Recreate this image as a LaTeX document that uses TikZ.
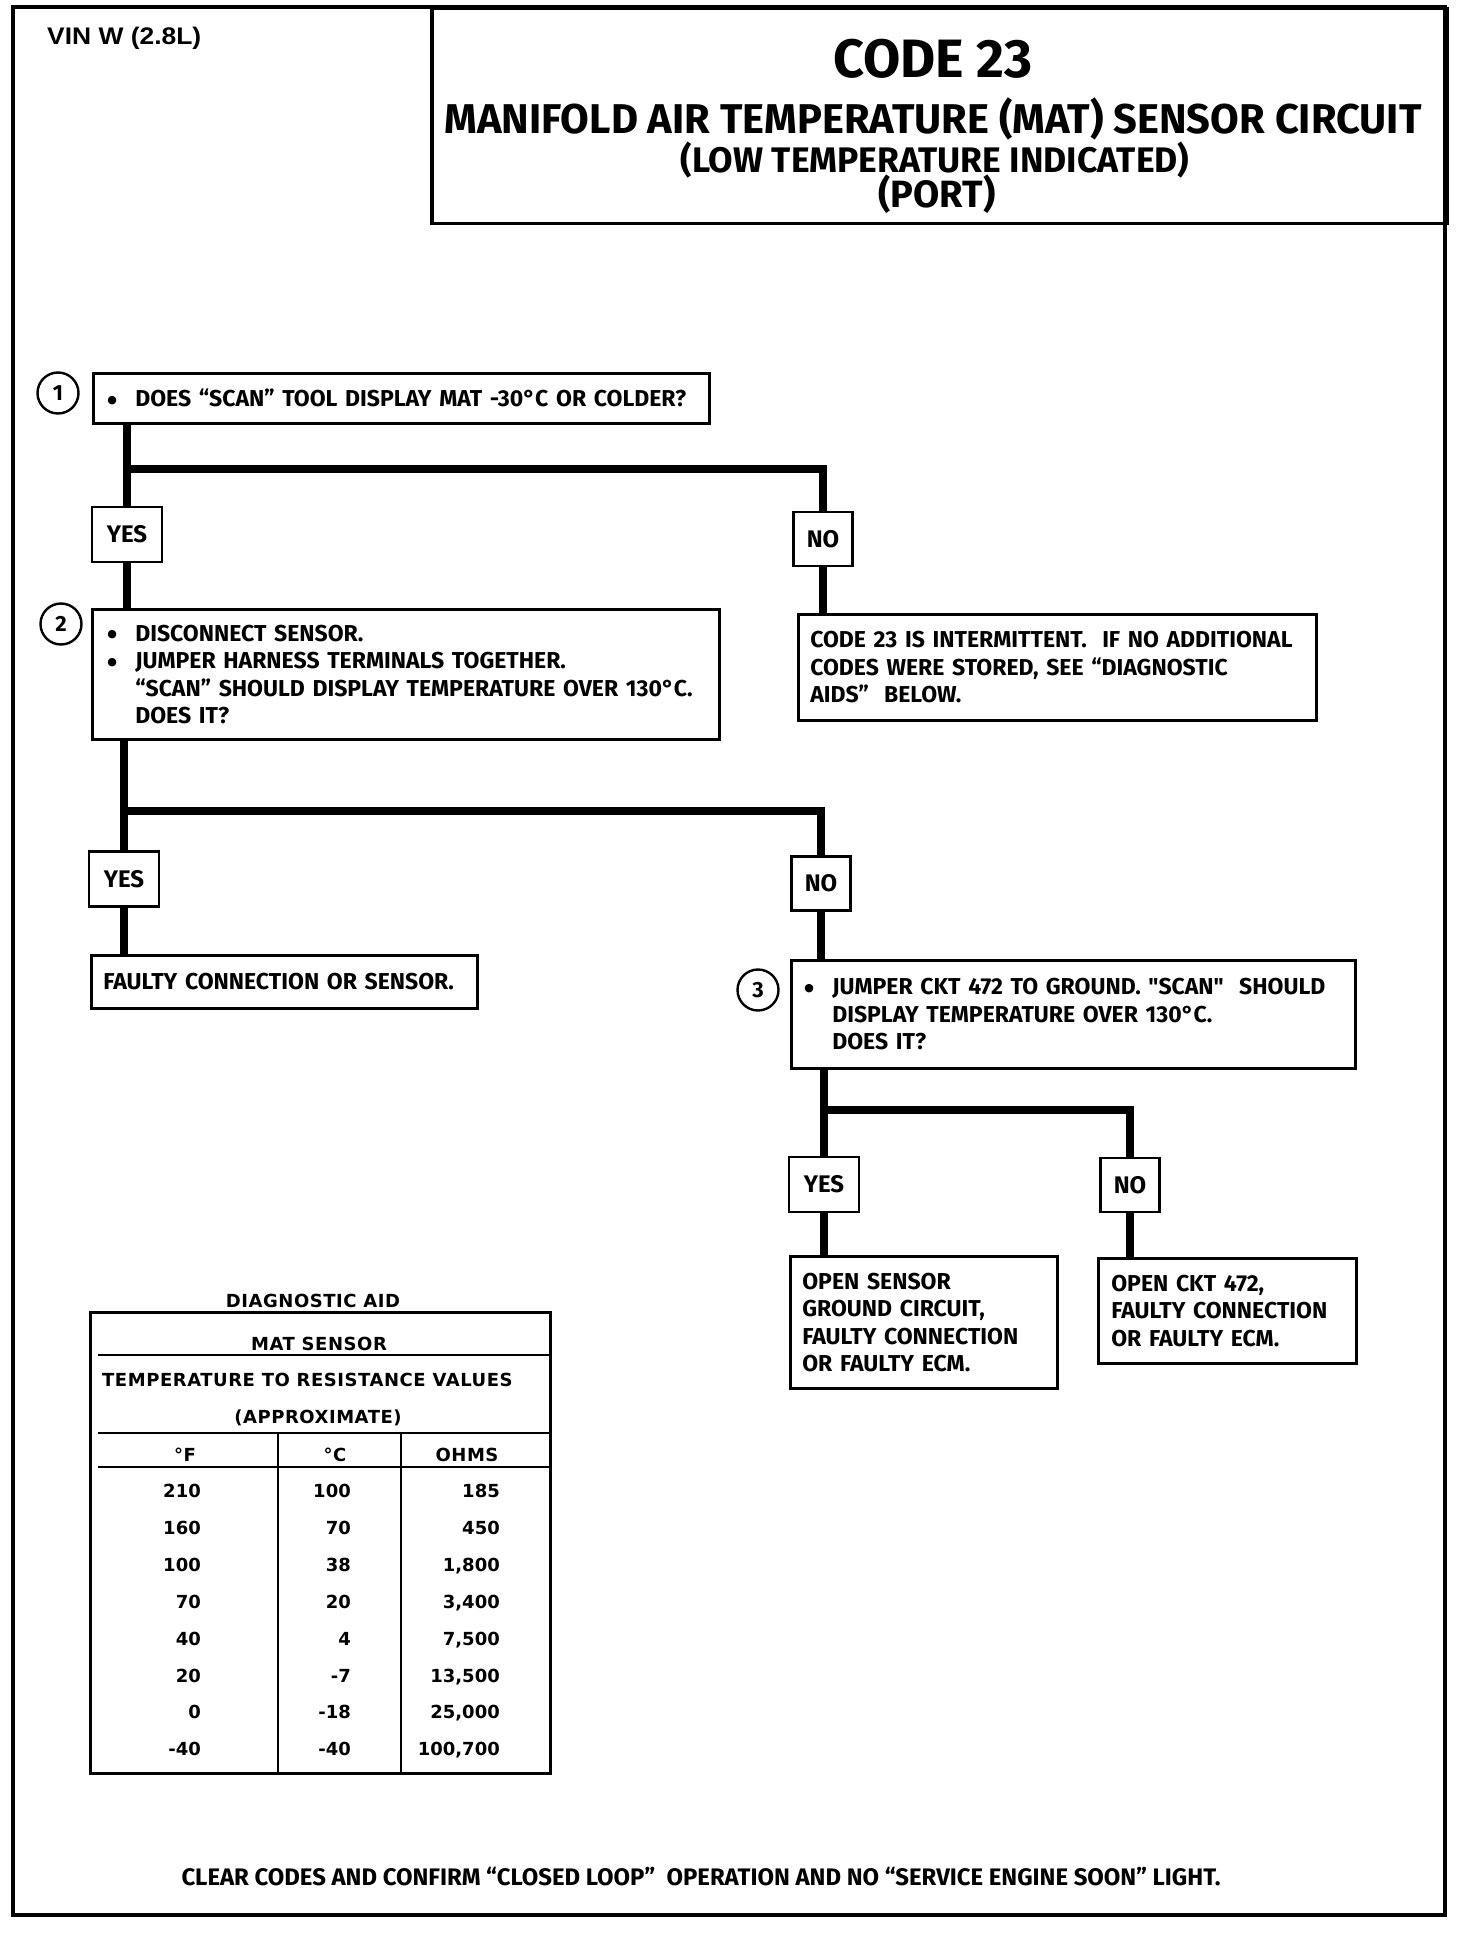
\documentclass[tikz,border=0pt]{standalone}
\usepackage{fontspec}
\setmainfont{Fira Sans}
\newfontfamily\bodyf{Fira Sans}[FakeStretch=1.0]
\newfontfamily\headf{Fira Sans}
\newfontfamily\tabf{DejaVu Sans}[LetterSpace=3]
\newfontfamily\tabd{DejaVu Sans}
\newfontfamily\dotf{DejaVu Sans}
\newfontfamily\vinf{Liberation Sans}[FakeStretch=1.1]
\newcommand{\bul}{\makebox[28pt][l]{\raisebox{3.5pt}{\dotf\fontsize{11}{11}\selectfont ●}}}
\newcommand{\ind}{\hspace*{28pt}}
\begin{document}
\begin{tikzpicture}[x=1pt,y=-1pt,
  every node/.style={inner sep=0pt},
  box/.style={draw, line width=2.6pt, anchor=north west, align=left, inner ysep=0pt,
    font=\bodyf\bfseries\fontsize{23}{27.5}\selectfont},
  lbl/.style={draw, line width=2.6pt, font=\bodyf\bfseries\fontsize{24}{26}\selectfont},
  yesbox/.style={lbl, minimum width=70pt, minimum height=55pt},
  nobox/.style={lbl, minimum width=59pt, minimum height=54pt},
  num/.style={draw, circle, line width=2.4pt, minimum size=41pt,
    font=\bodyf\bfseries\fontsize{22}{24}\selectfont},
  conn/.style={line width=7.5pt, line join=miter},
  tabtxt/.style={font=\tabf\bfseries\fontsize{18}{22}\selectfont},
  tabnum/.style={font=\tabd\bfseries\fontsize{18}{22}\selectfont},
  tline/.style={line width=2.6pt}]
\useasboundingbox (0,0) rectangle (1472,1934);
% outer frame and header
\draw[line width=4pt] (13,7) rectangle (1445,1915);
\node[draw, line width=3.5pt, anchor=north west, minimum width=1015pt, minimum height=215pt] (hdr) at (430,7) {};
\node[anchor=base west, font=\vinf\bfseries\fontsize{24}{26}\selectfont] (vin) at (47,45) {VIN W (2.8L)};
\node[anchor=base, font=\headf\bfseries\fontsize{54}{58}\selectfont] (code) at (933,78) {CODE 23};
\node[anchor=base, font=\headf\bfseries\fontsize{41.6}{46}\selectfont] (title) at (933,134) {MANIFOLD AIR TEMPERATURE (MAT) SENSOR CIRCUIT};
\node[anchor=base, font=\headf\bfseries\fontsize{35.5}{40}\selectfont] (sub1) at (935,173) {(LOW TEMPERATURE INDICATED)};
\node[anchor=base, font=\headf\bfseries\fontsize{38}{40}\selectfont] (sub2) at (937,208) {(PORT)};

% step boxes
\node[num] (c1) at (58,393) {1};
\node[box, inner xsep=14pt, text width=588pt, minimum height=50pt] (b1) at (92,372)
  {\mbox{\bul DOES “SCAN” TOOL DISPLAY MAT -30°C OR COLDER?}};
\node[yesbox] (yes1) at (127,534.5) {YES};
\node[nobox] (no1) at (823,539) {NO};
\node[box, inner xsep=12pt, text width=494pt, minimum height=106pt] (r1) at (797,613)
  {CODE 23 IS INTERMITTENT.\ \ IF NO ADDITIONAL\\CODES WERE STORED, SEE “DIAGNOSTIC\\AIDS”\ \ BELOW.};
\node[num] (c2) at (61,624) {2};
\node[box, inner xsep=15pt, text width=597pt, minimum height=130pt] (b2) at (91,608)
  {\bul DISCONNECT SENSOR.\\\bul JUMPER HARNESS TERMINALS TOGETHER.\\\mbox{\ind “SCAN” SHOULD DISPLAY TEMPERATURE OVER 130°C.}\\\ind DOES IT?};
\node[yesbox] (yes2) at (124,879) {YES};
\node[nobox] (no2) at (821,883.5) {NO};
\node[box, inner xsep=12pt, text width=362pt, minimum height=53pt] (fault) at (90,954)
  {FAULTY CONNECTION OR SENSOR.};
\node[num] (c3) at (758,990) {3};
\node[box, inner xsep=13pt, text width=538pt, minimum height=108pt] (b3) at (790,959)
  {\mbox{\bul JUMPER CKT 472 TO GROUND. "SCAN"\ \ SHOULD}\\\ind DISPLAY TEMPERATURE OVER 130°C.\\\ind DOES IT?};
\node[yesbox] (yes3) at (824,1184.5) {YES};
\node[nobox] (no3) at (1130,1185) {NO};
\node[box, inner xsep=12pt, text width=243pt, minimum height=132pt] (r3y) at (789,1255)
  {OPEN SENSOR\\GROUND CIRCUIT,\\FAULTY CONNECTION\\OR FAULTY ECM.};
\node[box, inner xsep=13pt, text width=232pt, minimum height=105pt] (r3n) at (1097,1257)
  {OPEN CKT 472,\\FAULTY CONNECTION\\OR FAULTY ECM.};

% connectors
\coordinate (j1) at (127,469);
\coordinate (j2) at (124,811);
\coordinate (j3) at (824,1110);
\draw[conn] (b1.south -| yes1.north) -- (yes1.north);
\draw[conn] (j1) -| (no1.north);
\draw[conn] (yes1.south) -- (yes1.south |- b2.north);
\draw[conn] (no1.south) -- (no1.south |- r1.north);
\draw[conn] (b2.south -| yes2.north) -- (yes2.north);
\draw[conn] (j2) -| (no2.north);
\draw[conn] (yes2.south) -- (yes2.south |- fault.north);
\draw[conn] (no2.south) -- (no2.south |- b3.north);
\draw[conn] (b3.south -| yes3.north) -- (yes3.north);
\draw[conn] (j3) -| (no3.north);
\draw[conn] (yes3.south) -- (yes3.south |- r3y.north);
\draw[conn] (no3.south) -- (no3.south |- r3n.north);

% diagnostic aid table
\node[tabtxt, anchor=base] (dtitle) at (313,1307) {DIAGNOSTIC AID};
\node[draw, line width=3pt, anchor=north west, minimum width=460pt, minimum height=461pt] (tab) at (89,1311) {};
\draw[tline] (98,1355) -- (549,1355);
\draw[tline] (98,1433) -- (549,1433);
\draw[tline] (98,1467) -- (549,1467);
\draw[tline] (278,1433) -- (278,1772);
\draw[tline] (401,1433) -- (401,1772);
\node[tabtxt, anchor=base] (mat) at (319,1350) {MAT SENSOR};
\node[tabtxt, anchor=base west] (trv) at (102,1386) {TEMPERATURE TO RESISTANCE VALUES};
\node[tabtxt, anchor=base] (appr) at (318,1423) {(APPROXIMATE)};
\node[tabtxt, anchor=base] (hf) at (185,1461) {°F};
\node[tabtxt, anchor=base] (hc) at (335,1461) {°C};
\node[tabtxt, anchor=base] (ho) at (467,1461) {OHMS};
\foreach \f/\c/\o [count=\i from 0] in {210/100/185, 160/70/450, 100/38/1{,}800, 70/20/3{,}400, 40/4/7{,}500, 20/-7/13{,}500, 0/-18/25{,}000, -40/-40/100{,}700} {
  \pgfmathsetmacro\yy{1497.5+36.9*\i}
  \node[tabnum, anchor=base east] (f\i) at (201,\yy) {\f};
  \node[tabnum, anchor=base east] (c\i) at (351,\yy) {\c};
  \node[tabnum, anchor=base east] (o\i) at (500,\yy) {\o};
}

\node[anchor=base, font=\bodyf\bfseries\fontsize{23.9}{26}\selectfont] (foot) at (701,1885)
  {CLEAR CODES AND CONFIRM “CLOSED LOOP”\ \ OPERATION AND NO “SERVICE ENGINE SOON” LIGHT.};
\end{tikzpicture}
\end{document}
